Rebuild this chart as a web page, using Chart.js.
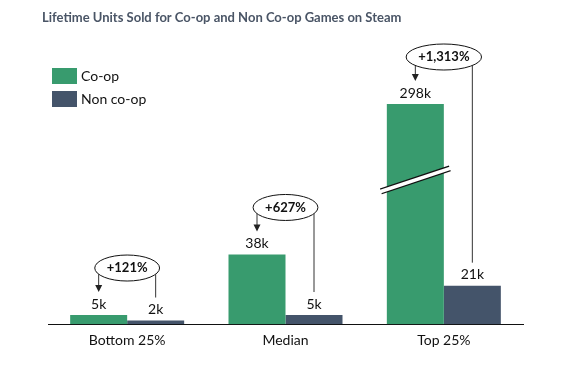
<!DOCTYPE html>
<html>
<head>
<meta charset="utf-8">
<script src="https://cdn.jsdelivr.net/npm/chart.js@4"></script>
<style>
  html, body { margin: 0; padding: 0; background: #fff; }
  #wrap { width: 578px; height: 371px; position: relative; }
</style>
</head>
<body>
<div id="wrap"><canvas id="unitsChart"></canvas></div>
<script>
// ===== DATA =====
const categories = ['Bottom 25%', 'Median', 'Top 25%'];
const coopUnits = [5, 38, 298];      // thousands
const nonCoopUnits = [2, 5, 21];     // thousands
const upliftLabels = ['+121%', '+627%', '+1,313%'];
const seriesNames = ['Co-op', 'Non co-op'];
const Y_MAX = 120;                   // axis is broken above this

const GREEN = '#389B6E';
const SLATE = '#44546A';
const FONT = 'Lato, "Open Sans", sans-serif';

// ===== PLUGIN: title, legend, labels, callouts =====
const calloutPlugin = {
    id: 'callouts',
    afterDraw(chart) {
        const ctx = chart.ctx;
        const area = chart.chartArea;
        const coop = chart.getDatasetMeta(0).data;
        const non = chart.getDatasetMeta(1).data;

        ctx.save();
        // title
        ctx.fillStyle = '#4A5566';
        ctx.font = 'bold 13px ' + FONT;
        ctx.textAlign = 'left';
        ctx.textBaseline = 'middle';
        ctx.fillText('Lifetime Units Sold for Co-op and Non Co-op Games on Steam', 42, 18);

        // legend
        chart.data.datasets.forEach((ds, i) => {
            const y = 68 + i * 23;
            ctx.fillStyle = ds.backgroundColor;
            ctx.fillRect(52, y, 25, 16);
            ctx.fillStyle = '#111';
            ctx.font = '14px ' + FONT;
            ctx.fillText(ds.label, 81, y + 8);
        });

        categories.forEach((c, i) => {
            const g = coop[i], s = non[i];
            const gy = Math.max(g.y, area.top);
            const sy = s.y;

            // axis break on clipped bars
            if (coopUnits[i] > Y_MAX) {
                const my = area.top + 0.345 * (area.bottom - area.top);
                const hw = g.width / 2 + 6;
                ctx.lineCap = 'butt';
                ctx.strokeStyle = '#111';
                ctx.lineWidth = 6;
                ctx.beginPath();
                ctx.moveTo(g.x - hw, my + 11.5);
                ctx.lineTo(g.x + hw, my - 11.5);
                ctx.stroke();
                ctx.strokeStyle = '#fff';
                ctx.lineWidth = 3.5;
                ctx.beginPath();
                ctx.moveTo(g.x - hw - 1, my + 11.8);
                ctx.lineTo(g.x + hw + 1, my - 11.8);
                ctx.stroke();
            }

            // value labels
            ctx.fillStyle = '#111';
            ctx.font = '14px ' + FONT;
            ctx.textAlign = 'center';
            ctx.fillText(coopUnits[i] + 'k', g.x, gy - 11);
            ctx.fillText(nonCoopUnits[i] + 'k', s.x, sy - 11);

            // ellipse callout
            ctx.font = 'bold 13px ' + FONT;
            const tw = ctx.measureText(upliftLabels[i]).width;
            const cx = (g.x + s.x) / 2;
            const cy = gy - 11 - 36;
            const rx = tw / 2 + 12;
            const ry = 13;
            const edge = (x) => cy + ry * Math.sqrt(Math.max(0, 1 - Math.pow((x - cx) / rx, 2)));

            ctx.strokeStyle = '#333';
            ctx.lineWidth = 1;
            // arrow to co-op label
            const tipY = gy - 23;
            ctx.beginPath();
            ctx.moveTo(g.x, edge(g.x));
            ctx.lineTo(g.x, tipY - 6);
            ctx.stroke();
            ctx.fillStyle = '#222';
            ctx.beginPath();
            ctx.moveTo(g.x - 3.5, tipY - 7);
            ctx.lineTo(g.x + 3.5, tipY - 7);
            ctx.lineTo(g.x, tipY);
            ctx.closePath();
            ctx.fill();
            // line to non co-op label
            ctx.beginPath();
            ctx.moveTo(s.x, edge(s.x));
            ctx.lineTo(s.x, sy - 23);
            ctx.stroke();

            ctx.beginPath();
            ctx.ellipse(cx, cy, rx, ry, 0, 0, Math.PI * 2);
            ctx.fillStyle = '#fff';
            ctx.fill();
            ctx.strokeStyle = '#111';
            ctx.stroke();
            ctx.fillStyle = '#111';
            ctx.fillText(upliftLabels[i], cx, cy);
        });
        ctx.restore();
    }
};

// ===== CHART =====
new Chart(document.getElementById('unitsChart'), {
    type: 'bar',
    data: {
        labels: categories,
        datasets: [
            { label: seriesNames[0], data: coopUnits, backgroundColor: GREEN, clip: 0 },
            { label: seriesNames[1], data: nonCoopUnits, backgroundColor: SLATE, clip: 0 }
        ]
    },
    options: {
        responsive: true,
        maintainAspectRatio: false,
        animation: false,
        datasets: { bar: { barPercentage: 1, categoryPercentage: 0.72 } },
        layout: { padding: { top: 104, left: 48, right: 55, bottom: 14 } },
        plugins: {
            legend: { display: false },
            title: { display: false },
            tooltip: { enabled: false }
        },
        scales: {
            x: {
                grid: { display: false, drawTicks: false },
                border: { display: true, color: '#111', width: 1 },
                ticks: { color: '#111', font: { family: FONT, size: 14 }, padding: 8 }
            },
            y: {
                display: false,
                min: 0,
                max: Y_MAX
            }
        }
    },
    plugins: [calloutPlugin]
});
</script>
</body>
</html>
